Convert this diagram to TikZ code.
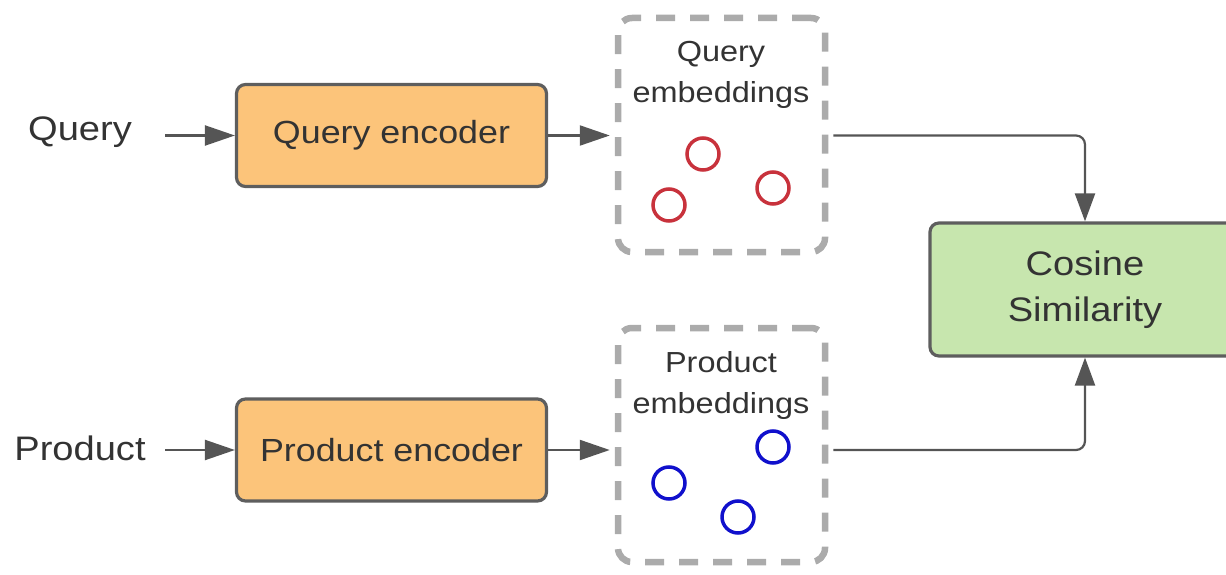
\documentclass[tikz,border=0pt]{standalone}
\usepackage{fontspec}
\setmainfont{Liberation Sans}[FakeStretch=1.12]
\usetikzlibrary{arrows.meta}
\definecolor{txt}{HTML}{333333}
\definecolor{boxborder}{HTML}{5E5E5E}
\definecolor{encfill}{HTML}{FCC47A}
\definecolor{cosfill}{HTML}{C7E6AE}
\definecolor{dashgray}{HTML}{ABABAB}
\definecolor{arrgray}{HTML}{555555}
\definecolor{qred}{HTML}{C8323C}
\definecolor{pblue}{HTML}{1010CC}
\begin{document}
\begin{tikzpicture}[x=1pt,y=-1pt,
  lbl/.style={text=txt, inner sep=0pt, font=\fontsize{34}{40}\selectfont},
  encbox/.style={draw=boxborder, line width=3.2pt, rounded corners=9pt, fill=encfill,
    minimum width=310pt, minimum height=102pt, inner sep=0pt, text=txt,
    font=\fontsize{32}{38}\selectfont},
  cosbox/.style={draw=boxborder, line width=3.2pt, rounded corners=9pt, fill=cosfill,
    minimum width=310pt, minimum height=133pt, inner sep=0pt, text=txt, align=center,
    font=\fontsize{34}{46}\selectfont},
  embbox/.style={draw=dashgray, line width=6.5pt, dash pattern=on 19pt off 15pt,
    rounded corners=14pt, minimum width=207pt, minimum height=234pt, inner sep=0pt},
  emblbl/.style={text=txt, align=center, inner sep=0pt, font=\fontsize{29}{41}\selectfont},
  dot/.style={circle, line width=3.5pt, minimum size=32pt, inner sep=0pt},
  tip/.style={-{Triangle[length=30pt,width=20pt]}},
  arr/.style={draw=arrgray, line width=2.2pt, tip},
  conn/.style={draw=arrgray, line width=2.2pt, rounded corners=9pt, -{Triangle[length=28pt,width=20pt]}}
]
\useasboundingbox (0,0) rectangle (1226,575);

% Query row
\node[lbl] (ql) at (80,132) {Query};
\coordinate (qa) at (165,135);
\node[encbox] (qenc) at (391.5,135.5) {Query encoder};
\node[embbox] (qemb) at (721.5,135) {};
\node[emblbl] (qembl) at (721,75) {Query\\embeddings};
\node[dot, draw=qred] (q1) at (703,154) {};
\node[dot, draw=qred] (q2) at (773,188) {};
\node[dot, draw=qred] (q3) at (669,205) {};

% Product row
\node[lbl] (pl) at (80,448) {Product};
\coordinate (pa) at (165,450);
\node[encbox] (penc) at (391.5,450) {Product encoder};
\node[embbox] (pemb) at (721.5,445) {};
\node[emblbl] (pembl) at (721,385) {Product\\embeddings};
\node[dot, draw=pblue] (p1) at (773,447) {};
\node[dot, draw=pblue] (p2) at (669,483) {};
\node[dot, draw=pblue] (p3) at (738,517) {};

% Cosine
\node[cosbox] (cos) at (1085,289.5) {Cosine\\Similarity};

% connectors
\draw[arr] (qa |- qenc.west) -- (qenc.west);
\draw[arr, shorten >=5pt] (qenc.east) -- (qemb.west |- qenc.east);
\draw[conn, shorten <=5pt] (qemb.east |- qenc.east) -| (cos.north);
\draw[arr] (pa |- penc.west) -- (penc.west);
\draw[arr, shorten >=5pt] (penc.east) -- (pemb.west |- penc.east);
\draw[conn, shorten <=5pt] (pemb.east |- penc.east) -| (cos.south);
\end{tikzpicture}
\end{document}
